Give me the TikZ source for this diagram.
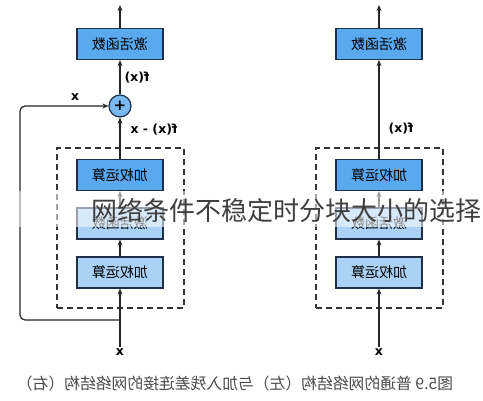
\documentclass[tikz,border=0pt]{standalone}
\usepackage{fontspec}
\usepackage{graphicx}
\newfontfamily\cjk{Noto Sans CJK SC}
\setsansfont{DejaVu Sans}
\usetikzlibrary{arrows.meta}
\definecolor{dkblue}{HTML}{5AA8EE}
\definecolor{ltblue}{HTML}{A9D2F6}
\definecolor{edge}{HTML}{1F2F4A}
\newcommand{\rf}[1]{\reflectbox{#1}}
\begin{document}
\begin{tikzpicture}[x=1pt,y=-1pt,
  blk/.style={draw=edge, line width=1.2pt, minimum width=86pt, minimum height=31pt, inner sep=0pt, font=\cjk\fontsize{14}{14}\selectfont},
  dbox/.style={blk, fill=dkblue},
  lbox/.style={blk, fill=ltblue},
  dashbox/.style={draw=black!80, line width=1.3pt, dash pattern=on 6pt off 4pt, minimum width=127pt, minimum height=160pt, inner sep=0pt},
  circ/.style={circle, draw=edge, line width=1.2pt, fill=dkblue!80, minimum size=22pt, inner sep=0pt, font=\sffamily\bfseries\fontsize{15}{15}\selectfont},
  lbl/.style={font=\sffamily\bfseries\fontsize{12.5}{12.5}\selectfont, inner sep=1pt},
  arr/.style={line width=1.2pt, draw=black!85, -{Stealth[length=6pt,width=5pt]}},
  ln/.style={line width=1.2pt, draw=black!85}
]
\useasboundingbox (0,0) rectangle (483,400);
\fill[white] (0,0) rectangle (483,400);
% ---------- left diagram ----------
\node[dashbox] (ld) at (120.5,228) {};
\node[dbox] (la) at (120,44) {\rf{激活函数}};
\node[circ] (plus) at (120,106) {+};
\node[dbox] (lw1) at (120,175) {\rf{加权运算}};
\node[lbox] (lact) at (120,223.5) {\rf{激活函数}};
\node[lbox] (lw2) at (120,272.5) {\rf{加权运算}};
\node[lbl] (lx) at (120,352) {x};
\coordinate (ltop) at (120,5);
\coordinate (ljoin) at (120,320);
\coordinate (lcorner1) at (20,320);
\coordinate (lcorner2) at (20,106);
\draw[arr] (la.north) -- (ltop);
\draw[arr] (plus.north) -- (la.south);
\draw[arr] (lw1.north) -- (plus.south);
\draw[arr] (lact.north) -- (lw1.south);
\draw[arr] (lw2.north) -- (lact.south);
\draw[arr] (lx.north) -- (lw2.south);
\draw[arr, rounded corners=5pt] (ljoin) -- (lcorner1) -- (lcorner2) -- (plus.west);
\node[lbl] (lfx) at (137,78) {\rf{f(x)}};
\node[lbl] (lfxx) at (154,130) {\rf{f(x) - x}};
\node[lbl] (lxs) at (75,97) {\rf{x}};
% ---------- right diagram ----------
\node[dashbox] (rd) at (379.5,228) {};
\node[dbox] (ra) at (379,44) {\rf{激活函数}};
\node[dbox] (rw1) at (379,175) {\rf{加权运算}};
\node[lbox] (ract) at (379,223.5) {\rf{激活函数}};
\node[lbox] (rw2) at (379,272.5) {\rf{加权运算}};
\node[lbl] (rx) at (379,352) {x};
\coordinate (rtop) at (379,5);
\draw[arr] (ra.north) -- (rtop);
\draw[arr] (rw1.north) -- (ra.south);
\draw[arr] (ract.north) -- (rw1.south);
\draw[arr] (rw2.north) -- (ract.south);
\draw[arr] (rx.north) -- (rw2.south);
\node[lbl] (rfx) at (401,129) {\rf{f(x)}};
% ---------- caption ----------
\node[font=\cjk\fontsize{15.8}{15.8}\selectfont, text=black!70] (cap) at (235,383) {\rf{图5.9 普通的网络结构（左）与加入残差连接的网络结构（右）}};
% ---------- overlay ----------
\fill[white, opacity=0.55] (0,191) rectangle (483,227);
\node[font=\cjk\fontsize{26}{26}\selectfont, text=black!75, anchor=east, inner sep=0pt] (ov) at (482,210) {网络条件不稳定时分块大小的选择};
\end{tikzpicture}
\end{document}
